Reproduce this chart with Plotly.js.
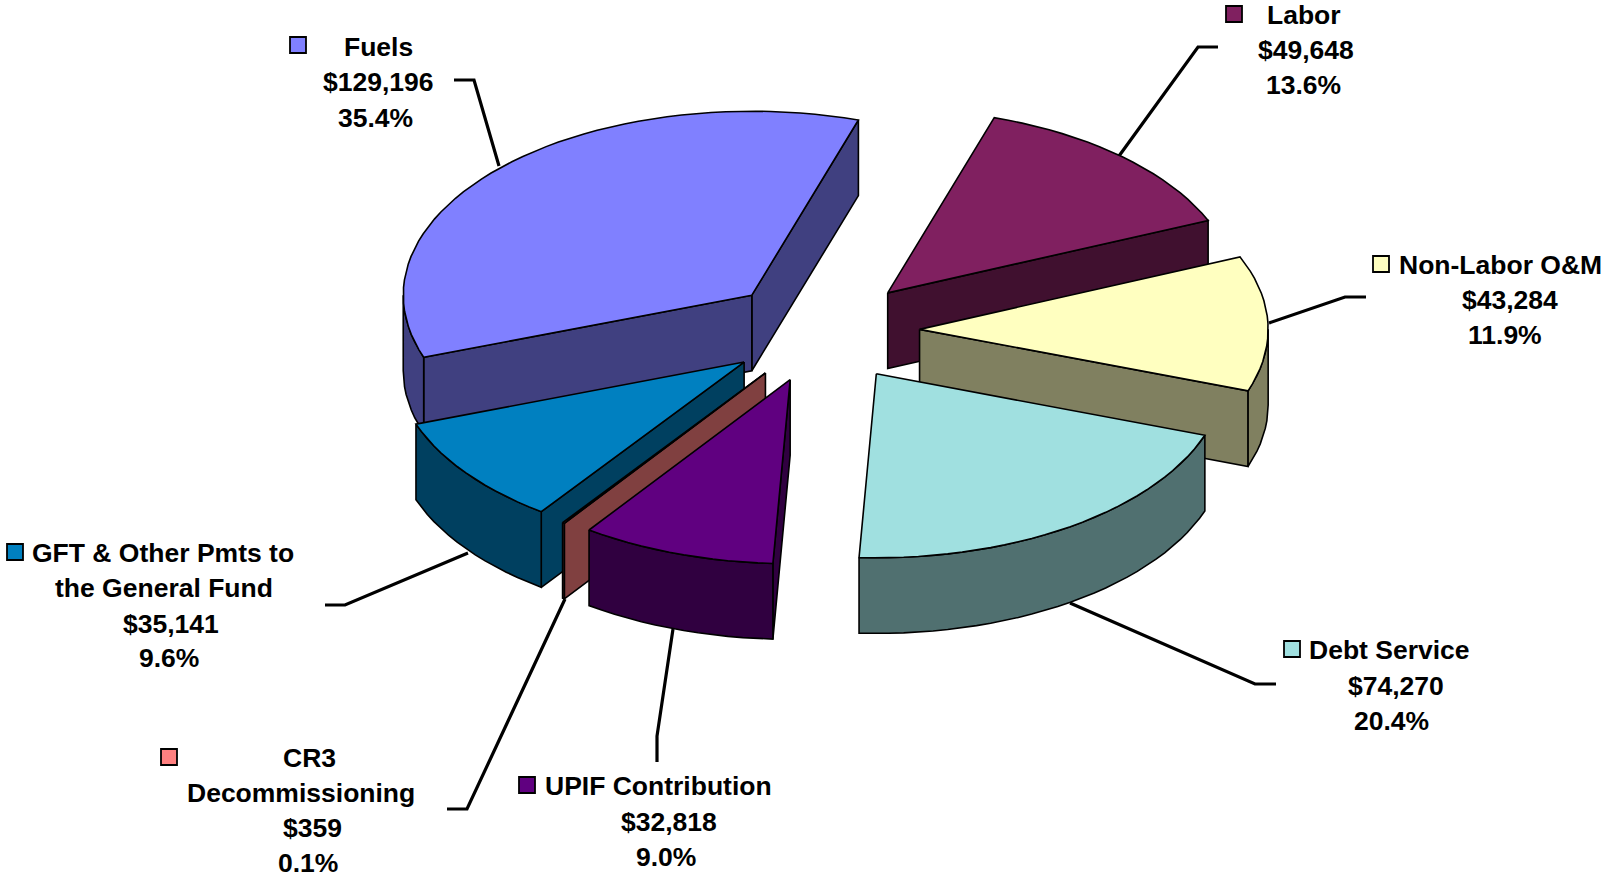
<!DOCTYPE html>
<html>
<head>
<meta charset="utf-8">
<script src="https://cdn.plot.ly/plotly-3.0.1.min.js"></script>
<style>html,body{margin:0;padding:0;background:#fff;overflow:hidden}</style>
</head>
<body>
<div id="chart" style="width:1603px;height:877px"></div>
<script>
// Data, counter-clockwise from the Fuels / Labor boundary
const categories = ["Fuels", "GFT & Other Pmts to the General Fund", "CR3 Decommissioning", "UPIF Contribution", "Debt Service", "Non-Labor O&M", "Labor"];
const values = [129196, 35141, 359, 32818, 74270, 43284, 49648];
const topColors = ["#8080FF", "#0080C0", "#FF8080", "#600080", "#A0E0E0", "#FFFFC0", "#802060"];
const wallColors = ["#404080", "#004060", "#804040", "#300040", "#507070", "#808060", "#40102F"];
const paintOrder = [0, 6, 5, 4, 1, 2, 3];

// Label text, one entry per line
const labelLines = [
  ["Fuels", "$129,196", "35.4%"],
  ["GFT & Other Pmts to", "the General Fund", "$35,141", "9.6%"],
  ["CR3", "Decommissioning", "$359", "0.1%"],
  ["UPIF Contribution", "$32,818", "9.0%"],
  ["Debt Service", "$74,270", "20.4%"],
  ["Non-Labor O&M", "$43,284", "11.9%"],
  ["Labor", "$49,648", "13.6%"]
];
const labelX = [
  [378, 378, 375],
  [163, 164, 171, 169],
  [309, 301, 312, 308],
  [658, 669, 666],
  [1389, 1396, 1391],
  [1500, 1510, 1505],
  [1304, 1306, 1303]
];
const labelY = [
  [47, 82, 118],
  [553, 588, 624, 658],
  [758, 793, 828, 863],
  [786, 822, 857],
  [650, 686, 721],
  [265, 300, 335],
  [15, 50, 85]
];
const keyX = [298, 15, 169, 527, 1292, 1381, 1234];
const keyY = [45, 552, 757, 785, 649, 264, 14];
const leaderX = [
  [454, 474, 499],
  [325, 345, 468],
  [447, 467, 565],
  [657, 657, 673],
  [1276, 1255, 1070],
  [1366, 1345, 1269],
  [1218, 1198, 1119]
];
const leaderY = [
  [80, 80, 166],
  [605, 605, 553],
  [809, 809, 599],
  [762, 736, 629],
  [684, 684, 603],
  [297, 297, 323],
  [47, 47, 156]
];

// Pie geometry
const centerX = 822, centerY = 331, radiusX = 348.6, radiusY = 184, depth = 75.6;
const explode = 0.28, startAngle = 72.2, outline = "#000000";

const rad = d => d * Math.PI / 180;
const total = values.reduce((a, b) => a + b, 0);
let running = startAngle;
const sweeps = values.map(v => {
  const s = {from: running, to: running + 360 * v / total};
  running = s.to;
  return s;
});

function sliceOrigin(s) {
  const mid = rad((s.from + s.to) / 2);
  return [centerX + explode * radiusX * Math.cos(mid), centerY - explode * radiusY * Math.sin(mid)];
}
function rim(o, deg, drop) {
  return [o[0] + radiusX * Math.cos(rad(deg)), o[1] - radiusY * Math.sin(rad(deg)) + (drop || 0)];
}
function arc(o, a, b, drop) {
  const n = Math.max(2, Math.ceil(Math.abs(b - a) / 2.5));
  const pts = [];
  for (let i = 0; i <= n; i++) pts.push(rim(o, a + (b - a) * i / n, drop));
  return pts;
}
function polygon(pts, fill) {
  return {
    type: "scatter", mode: "lines", fill: "toself", fillcolor: fill,
    x: pts.map(p => p[0]).concat(pts[0][0]),
    y: pts.map(p => p[1]).concat(pts[0][1]),
    line: {color: outline, width: 1.6, shape: "linear"},
    hoverinfo: "skip", showlegend: false
  };
}

const traces = [];

// Leader lines lie beneath the slices
categories.forEach((c, i) => traces.push({
  type: "scatter", mode: "lines", x: leaderX[i], y: leaderY[i],
  line: {color: "#000000", width: 3.2}, hoverinfo: "skip", showlegend: false
}));

paintOrder.forEach(i => {
  const s = sweeps[i], o = sliceOrigin(s);
  const radial = deg => {
    const r = rim(o, deg), r2 = rim(o, deg, depth);
    return polygon([o, r, r2, [o[0], o[1] + depth]], wallColors[i]);
  };
  if (Math.cos(rad(s.from)) > 0) traces.push(radial(s.from));
  if (Math.cos(rad(s.to)) < 0) traces.push(radial(s.to));
  [[180, 360], [540, 720]].forEach(w => {
    const a = Math.max(s.from, w[0]), b = Math.min(s.to, w[1]);
    if (b > a) traces.push(polygon(arc(o, a, b, 0).concat(arc(o, b, a, depth)), wallColors[i]));
  });
  traces.push(polygon([o].concat(arc(o, s.from, s.to, 0)), topColors[i]));
});

// Legend keys
categories.forEach((c, i) => traces.push({
  type: "scatter", mode: "markers", x: [keyX[i]], y: [keyY[i]],
  marker: {symbol: "square", size: 16, color: topColors[i], line: {color: "#000000", width: 1.8}},
  hoverinfo: "skip", showlegend: false
}));

const annotations = [];
labelLines.forEach((lines, i) => lines.forEach((t, j) => annotations.push({
  x: labelX[i][j], y: labelY[i][j], xref: "x", yref: "y",
  text: t.replace(/&/g, "&amp;"), showarrow: false, xanchor: "center", yanchor: "middle",
  borderpad: 0, font: {family: "Liberation Sans, Arial, sans-serif", size: 26.5, color: "#000000", weight: 700}
})));

Plotly.newPlot("chart", traces, {
  width: 1603, height: 877,
  margin: {l: 0, r: 0, t: 0, b: 0},
  paper_bgcolor: "#ffffff", plot_bgcolor: "#ffffff",
  xaxis: {range: [0, 1603], visible: false, fixedrange: true},
  yaxis: {range: [877, 0], visible: false, fixedrange: true},
  showlegend: false,
  annotations: annotations
}, {displayModeBar: false, staticPlot: true});
</script>
</body>
</html>
